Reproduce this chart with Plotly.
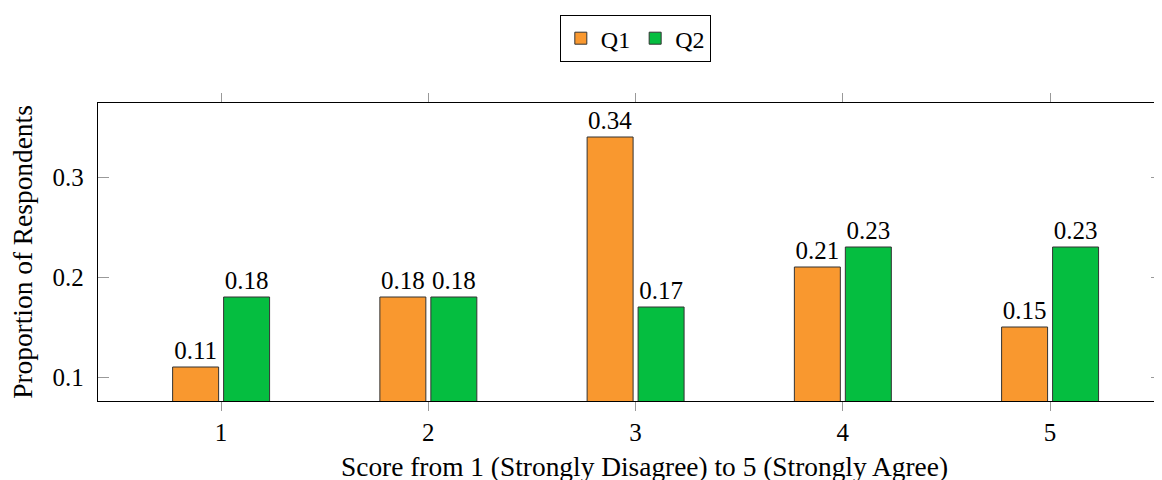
import plotly.graph_objects as go

scores = [1, 2, 3, 4, 5]
q1 = [0.11, 0.18, 0.34, 0.21, 0.15]
q2 = [0.18, 0.18, 0.17, 0.23, 0.23]
q1_labels = ["0.11", "0.18", "0.34", "0.21", "0.15"]
q2_labels = ["0.18", "0.18", "0.17", "0.23", "0.23"]
ytick_vals = [0.1, 0.2, 0.3]
ytick_text = ["0.1", "0.2", "0.3"]
x_title = "Score from 1 (Strongly Disagree) to 5 (Strongly Agree)"
y_title = "Proportion of Respondents"

FONT = "Times New Roman, Liberation Serif, Times, serif"
FS = 25
FT = 27.4
ORANGE = "#F9982F"
GREEN = "#05BE40"

fig = go.Figure()
fig.add_trace(go.Bar(x=scores, y=q1, name="Q1", text=q1_labels,
                     textposition="outside", cliponaxis=False,
                     marker=dict(color=ORANGE, line=dict(color="#333333", width=1)),
                     textfont=dict(family=FONT, size=FS, color="black")))
fig.add_trace(go.Bar(x=scores, y=q2, name="Q2", text=q2_labels,
                     textposition="outside", cliponaxis=False,
                     marker=dict(color=GREEN, line=dict(color="#333333", width=1)),
                     textfont=dict(family=FONT, size=FS, color="black")))

# page body has an 8px default margin, so the figure is sized/offset to compensate
fig.update_layout(
    width=1154, height=472,
    margin=dict(l=90, r=0, t=95, b=79, autoexpand=False),
    paper_bgcolor="white", plot_bgcolor="white",
    barmode="group", bargap=0.508, bargroupgap=0.098,
    font=dict(family=FONT, size=FS, color="black"),
    showlegend=True,
    legend=dict(orientation="h", x=0.505, xanchor="center", y=1.295, yanchor="top",
                bordercolor="black", borderwidth=1, font=dict(family=FONT, size=24),
                itemwidth=30, tracegroupgap=0),
    xaxis=dict(range=[0.406, 5.54], tickvals=scores, ticktext=[str(s) for s in scores],
               ticks="outside", ticklen=9, tickcolor="#999999", tickwidth=1,
               showline=True, linecolor="black", linewidth=1.3, mirror="ticks",
               showgrid=False, zeroline=False),
    yaxis=dict(range=[0.076, 0.374], tickvals=ytick_vals, ticktext=ytick_text,
               ticks="inside", ticklen=11, tickcolor="#999999", tickwidth=1,
               showline=True, linecolor="black", linewidth=1.3, mirror="ticks",
               showgrid=False, zeroline=False, ticklabelstandoff=8,
               title=dict(text=y_title, font=dict(family=FONT, size=FT), standoff=12)),
    annotations=[dict(text=x_title, xref="paper", yref="paper", x=0.5136, y=-0.2215,
                      xanchor="center", yanchor="middle", showarrow=False,
                      font=dict(family=FONT, size=FT, color="black"))],
)

fig.write_html("out.html")
